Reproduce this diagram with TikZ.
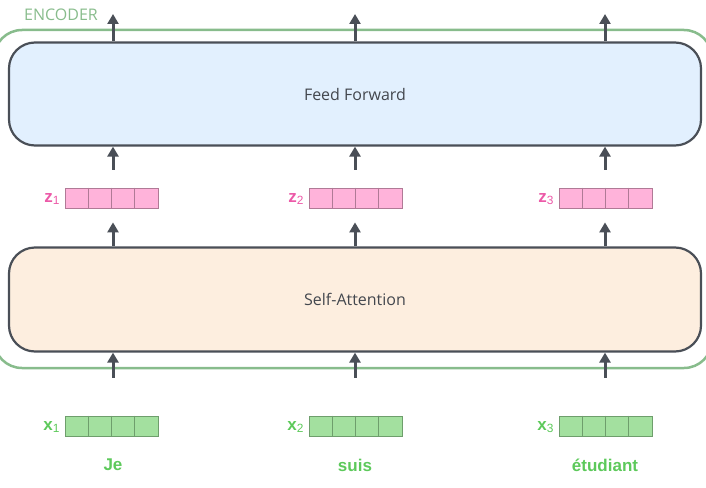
\documentclass[tikz,border=0pt]{standalone}
\usepackage{fontspec}
\setmainfont{Liberation Sans}
\newfontfamily\layerfont{Open Sans}
\usepackage{tikz}
\usetikzlibrary{arrows.meta}

\definecolor{encgreen}{HTML}{88BC8C}
\definecolor{boxgray}{HTML}{4A4F57}
\definecolor{ffblue}{HTML}{E2F0FE}
\definecolor{sapeach}{HTML}{FDEEDF}
\definecolor{zpink}{HTML}{FFB3DA}
\definecolor{zedge}{HTML}{B07A96}
\definecolor{zlabel}{HTML}{EC5AA8}
\definecolor{xgreen}{HTML}{A3E09F}
\definecolor{xedge}{HTML}{6E9E6C}
\definecolor{xlabel}{HTML}{5DC95B}

\tikzset{
	layer/.style={draw=boxgray, line width=2.2pt, rounded corners=26pt,
		minimum width=692pt, minimum height=103pt, text=boxgray!90!black,
		font=\layerfont\fontsize{16}{18}\selectfont},
	vec/.style={minimum width=93pt, minimum height=20pt, inner sep=0pt, line width=0.8pt},
	veclabel/.style={anchor=east, inner sep=0pt, font=\bfseries\fontsize{17}{19}\selectfont},
	word/.style={text=xlabel, font=\bfseries\fontsize{17}{19}\selectfont},
	flow/.style={draw=boxgray, line width=3pt, -{Triangle[width=11pt,length=10pt]}}
}

\begin{document}
\begin{tikzpicture}[x=1pt,y=-1pt]
	\useasboundingbox (0,0) rectangle (706,487);
	% encoder frame
	\draw[encgreen, line width=2.5pt, rounded corners=28pt] (-6,30) rectangle (712,368);
	\path (24,15) node[anchor=west, inner sep=0pt, text=encgreen, font=\layerfont\fontsize{16}{18}\selectfont] (encoder) {ENCODER};
	% layers
	\path (355,94) node[layer, fill=ffblue] (ff) {Feed Forward};
	\path (355,299.5) node[layer, fill=sapeach, minimum height=104pt] (sa) {Self-Attention};
	% columns
	\foreach \c/\ax/\vx/\w in {1/113/112/Je, 2/355/356/suis, 3/605/606/étudiant} {
		\coordinate (out\c) at (\ax,14);
		\path (\vx,198) node[vec, fill=zpink, draw=zedge] (z\c) {};
		\path (\vx,426) node[vec, fill=xgreen, draw=xedge] (x\c) {};
		\foreach \k in {1,2,3} {
			\draw[zedge, line width=0.8pt] ([xshift=\k*23.25pt]z\c.north west) -- ([xshift=\k*23.25pt]z\c.south west);
			\draw[xedge, line width=0.8pt] ([xshift=\k*23.25pt]x\c.north west) -- ([xshift=\k*23.25pt]x\c.south west);
		}
		\path ([xshift=-5pt,yshift=-1pt]z\c.west) node[veclabel, text=zlabel] (zl\c) {z\textsubscript{\mdseries\c}};
		\path ([xshift=-5pt,yshift=-1pt]x\c.west) node[veclabel, text=xlabel] (xl\c) {x\textsubscript{\mdseries\c}};
		\path (\ax,465) node[word] (w\c) {\w};
		% arrows
		\draw[flow, shorten <=38pt] (x\c.north -| out\c) -- (sa.south -| out\c);
		\draw[flow, shorten >=14pt] (sa.north -| out\c) -- (z\c.south -| out\c);
		\draw[flow, shorten <=18pt] (z\c.north -| out\c) -- (ff.south -| out\c);
		\draw[flow] (ff.north -| out\c) -- (out\c);
	}
\end{tikzpicture}
\end{document}
